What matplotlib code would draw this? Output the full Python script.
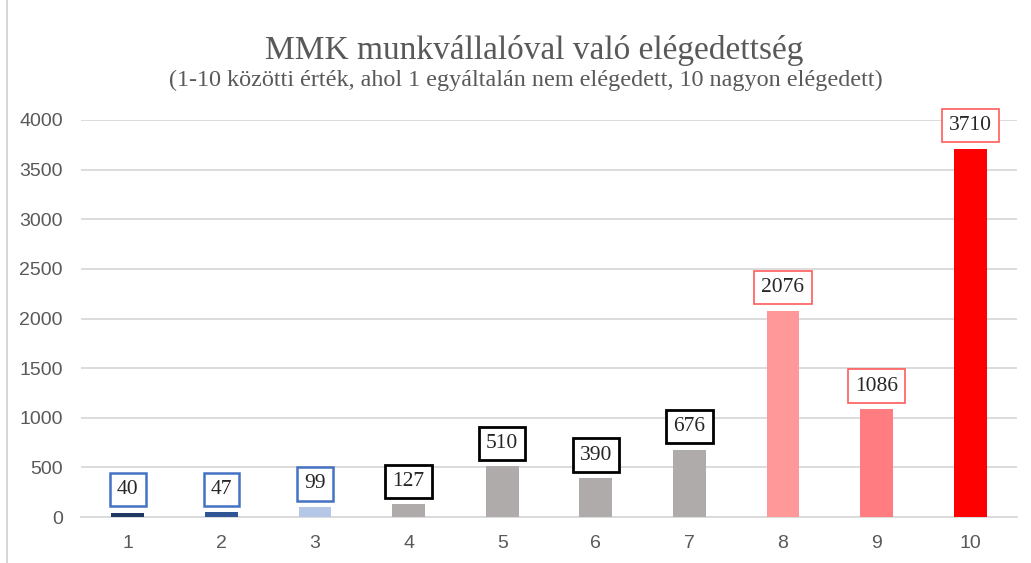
import matplotlib
matplotlib.use("Agg")
import matplotlib.pyplot as plt
from matplotlib.lines import Line2D

categories = ["1", "2", "3", "4", "5", "6", "7", "8", "9", "10"]
values = [40, 47, 99, 127, 510, 390, 676, 2076, 1086, 3710]
bar_colors = ["#203864", "#2F5597", "#B4C7E7", "#AFABAB", "#AFABAB", "#AFABAB",
              "#AFABAB", "#FF9999", "#FF7C80", "#FF0000"]
box_colors = ["#4472C4", "#4472C4", "#4472C4", "#000000", "#000000", "#000000",
              "#000000", "#FF5B5B", "#FF5B5B", "#FF5B5B"]
box_widths = [1.8, 1.8, 1.8, 2.0, 2.0, 2.0, 2.0, 1.2, 1.2, 1.2]
title = "MMK munkvállalóval való elégedettség"
subtitle = "(1-10 közötti érték, ahol 1 egyáltalán nem elégedett, 10 nagyon elégedett)"
yticks = [0, 500, 1000, 1500, 2000, 2500, 3000, 3500, 4000]

fig = plt.figure(figsize=(10.31, 5.63), dpi=100)
ax = fig.add_axes([81/1031, 46/563, (1017-81)/1031, (517-120)/563])

x = list(range(len(categories)))
ax.bar(x, values, width=0.35, color=bar_colors, zorder=3)

for xi, v, bc, bw in zip(x, values, box_colors, box_widths):
    ax.annotate(str(v), (xi, v), xytext=(0, 18.5), textcoords="offset points",
                ha="center", va="center_baseline", fontsize=15.5, family="Liberation Serif",
                color="#262626", zorder=5,
                bbox=dict(boxstyle="square,pad=0.33", fc="white", ec=bc, lw=bw))

ax.set_xlim(-0.5, len(categories) - 0.5)
ax.set_ylim(0, 4000)
ax.set_yticks(yticks)
ax.set_xticks(x)
ax.set_xticklabels(categories)
ax.grid(axis="y", color="#D9D9D9", linewidth=1.3, zorder=0)
ax.set_axisbelow(True)
for s in ["top", "right", "left"]:
    ax.spines[s].set_visible(False)
ax.spines["bottom"].set_color("#D9D9D9")
ax.spines["bottom"].set_linewidth(1.3)
ax.tick_params(axis="both", length=0, labelsize=14, labelcolor="#595959")
ax.tick_params(axis="y", pad=13)
ax.tick_params(axis="x", pad=13)
for lab in ax.get_xticklabels() + ax.get_yticklabels():
    lab.set_family("Liberation Sans")

fig.text(0.518, 1 - 50/563, title, ha="center", va="center", fontsize=24,
         family="Liberation Serif", color="#595959")
fig.text(0.51, 1 - 80/563, subtitle, ha="center", va="center", fontsize=17.4,
         family="Liberation Serif", color="#595959")

fig.add_artist(Line2D([7/1031, 7/1031], [0, 1], color="#D0D0D0", lw=1.2,
                      transform=fig.transFigure))

fig.savefig("out.png", dpi=100)
